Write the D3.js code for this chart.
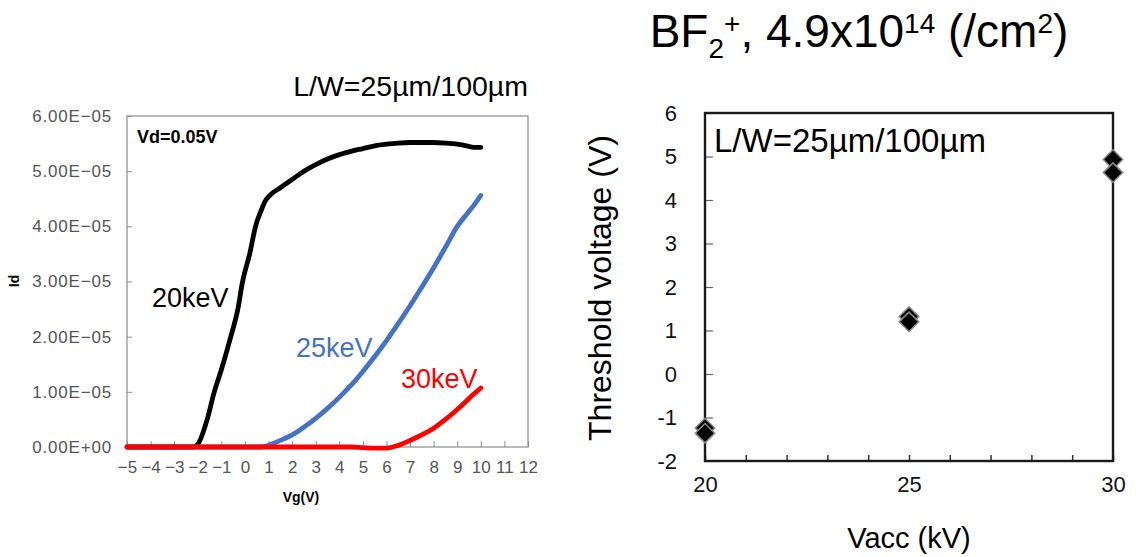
<!DOCTYPE html>
<html>
<head>
<meta charset="utf-8">
<script src="https://cdn.jsdelivr.net/npm/d3@7"></script>
<style>
  body { margin: 0; background: #fff; }
  svg { display: block; font-family: "Liberation Sans", Arial, sans-serif; }
</style>
</head>
<body>
<svg id="chart" width="1136" height="557"></svg>
<script>
// Left panel: Id-Vg transfer curves (Id in units of 1E-05 A)
const vg = [-5, -4, -3, -2.5, -2.2, -2.0, -1.6, -1.3, -1.0, -0.6, -0.3, -0.1, 0.2, 0.45, 0.7, 0.85, 1.1, 1.5, 2, 2.5, 3, 3.5, 4, 4.5, 5, 5.5, 6, 6.5, 7, 7.5, 8, 8.5, 9, 9.4, 9.7, 10];
const id20 = [0, 0, 0, 0, 0, 0.05, 0.5, 1.0, 1.4, 2.0, 2.5, 3.0, 3.5, 4.0, 4.3, 4.45, 4.58, 4.7, 4.85, 5.0, 5.12, 5.22, 5.3, 5.36, 5.41, 5.46, 5.49, 5.51, 5.52, 5.52, 5.52, 5.51, 5.49, 5.46, 5.43, 5.43];
const id25 = [0, 0, 0, 0, 0, 0, 0, 0, 0, 0, 0, 0, 0, 0, 0, 0.01, 0.05, 0.12, 0.22, 0.36, 0.52, 0.7, 0.9, 1.12, 1.37, 1.64, 1.93, 2.24, 2.56, 2.9, 3.25, 3.62, 4.0, 4.22, 4.38, 4.56];
const id30 = [0, 0, 0, 0, 0, 0, 0, 0, 0, 0, 0, 0, 0, 0, 0, 0, 0, 0, 0, 0, 0, 0, 0, 0, -0.01, -0.02, -0.02, 0.03, 0.12, 0.22, 0.34, 0.5, 0.68, 0.84, 0.96, 1.07];
const curveLabels = ["20keV", "25keV", "30keV"];
const curveColors = ["#000000", "#4472c4", "#ff0000"];
const idTicks = [0, 1, 2, 3, 4, 5, 6];
const vgTicks = d3.range(-5, 13);

// Right panel: threshold voltage vs acceleration voltage
const vacc = [20, 25, 30];
const vthA = [-1.24, 1.32, 4.93];
const vthB = [-1.36, 1.2, 4.63];
const vthTicks = [-2, -1, 0, 1, 2, 3, 4, 5, 6];
const vaccLabels = [20, 25, 30];

const svg = d3.select("#chart");

// ---------- left panel ----------
const L = {left: 127, right: 528, top: 116, bottom: 447};
const xL = d3.scaleLinear().domain([-5, 12]).range([L.left, L.right]);
const yL = d3.scaleLinear().domain([0, 6]).range([L.bottom, L.top]);

svg.append("rect")
  .attr("x", L.left).attr("y", L.top)
  .attr("width", L.right - L.left).attr("height", L.bottom - L.top)
  .attr("fill", "none").attr("stroke", "#8c8c8c").attr("stroke-width", 1.2);

// id tick labels as 6.00E-05 style
function sci(v) {
  if (v === 0) return "0.00E+00";
  return v.toFixed(2) + "E\u221205";
}

const yAxisL = svg.append("g")
  .attr("transform", `translate(${L.left},0)`)
  .call(d3.axisLeft(yL).tickValues(idTicks).tickSize(-5).tickPadding(15).tickFormat(sci));
yAxisL.select(".domain").remove();
yAxisL.selectAll("line").attr("stroke", "#8c8c8c");
yAxisL.selectAll("text").attr("fill", "#555").attr("font-size", 17).attr("letter-spacing", 0.8);

const xAxisL = svg.append("g")
  .attr("transform", `translate(0,${L.bottom})`)
  .call(d3.axisBottom(xL).tickValues(vgTicks).tickSize(-6).tickPadding(14).tickFormat(d3.format("d")));
xAxisL.select(".domain").remove();
xAxisL.selectAll("line").attr("stroke", "#8c8c8c");
xAxisL.selectAll("text").attr("fill", "#555").attr("font-size", 17);

const line = d3.line().x((d, i) => xL(vg[i])).y(d => yL(d)).curve(d3.curveMonotoneX);
[id20, id25, id30].forEach((s, k) => {
  svg.append("path")
    .attr("d", line(s))
    .attr("fill", "none")
    .attr("stroke", curveColors[k])
    .attr("stroke-width", 4.8)
    .attr("stroke-linecap", "round")
    .attr("stroke-linejoin", "round");
});

// curve labels
const labelPos = [[152, 307], [296, 357], [401, 388]];
curveLabels.forEach((t, k) => {
  svg.append("text")
    .attr("x", labelPos[k][0]).attr("y", labelPos[k][1])
    .attr("fill", curveColors[k])
    .attr("font-size", 27)
    .text(t);
});

svg.append("text")
  .attr("x", 137).attr("y", 143)
  .attr("font-size", 18).attr("font-weight", "bold")
  .text("Vd=0.05V");

svg.append("text")
  .attr("x", 528).attr("y", 96)
  .attr("text-anchor", "end")
  .attr("font-size", 28.5)
  .text("L/W=25\u00b5m/100\u00b5m");

svg.append("text")
  .attr("x", 301).attr("y", 502)
  .attr("text-anchor", "middle")
  .attr("font-size", 14).attr("font-weight", "bold")
  .text("Vg(V)");

svg.append("text")
  .attr("transform", "translate(19,281) rotate(-90)")
  .attr("text-anchor", "middle")
  .attr("font-size", 14).attr("font-weight", "bold")
  .text("Id");

// ---------- right panel ----------
const R = {left: 705, right: 1113, top: 113, bottom: 461};
const xR = d3.scaleLinear().domain([20, 30]).range([R.left, R.right]);
const yR = d3.scaleLinear().domain([-2, 6]).range([R.bottom, R.top]);

const yAxisR = svg.append("g")
  .attr("transform", `translate(${R.left},0)`)
  .call(d3.axisLeft(yR).tickValues(vthTicks).tickSize(-8).tickPadding(28).tickFormat(d3.format("d")));
yAxisR.select(".domain").remove();
yAxisR.selectAll("line").attr("stroke", "#666").attr("stroke-width", 1.2);
yAxisR.selectAll("text").attr("fill", "#111").attr("font-size", 22)
  .text(d => String(d));

const xAxisR = svg.append("g")
  .attr("transform", `translate(0,${R.bottom})`)
  .call(d3.axisBottom(xR).ticks(10).tickSize(-6).tickPadding(15).tickFormat(d => vaccLabels.includes(d) ? d : ""));
xAxisR.select(".domain").remove();
xAxisR.selectAll("line").attr("stroke", "#333").attr("stroke-width", 1.5);
xAxisR.selectAll("text").attr("fill", "#111").attr("font-size", 22);

svg.append("rect")
  .attr("x", R.left).attr("y", R.top)
  .attr("width", R.right - R.left).attr("height", R.bottom - R.top)
  .attr("fill", "none").attr("stroke", "#1a1a1a").attr("stroke-width", 2.4);

const diamond = d3.symbol().type(d3.symbolDiamond2).size(240);
[vthA, vthB].forEach(s => {
  svg.append("g").selectAll("path")
    .data(s)
    .join("path")
    .attr("transform", (d, i) => `translate(${xR(vacc[i])},${yR(d)})`)
    .attr("d", diamond)
    .attr("fill", "#000")
    .attr("stroke", "#888")
    .attr("stroke-width", 1.5);
});

svg.append("text")
  .attr("x", 714).attr("y", 152)
  .attr("font-size", 33)
  .text("L/W=25\u00b5m/100\u00b5m");

svg.append("text")
  .attr("x", (R.left + R.right) / 2).attr("y", 548)
  .attr("text-anchor", "middle")
  .attr("font-size", 29)
  .text("Vacc (kV)");

svg.append("text")
  .attr("transform", "translate(611,288) rotate(-90)")
  .attr("text-anchor", "middle")
  .attr("font-size", 32)
  .text("Threshold voltage (V)");

// title with sub/superscripts
const title = svg.append("text")
  .attr("x", 859).attr("y", 47)
  .attr("text-anchor", "middle")
  .attr("font-size", 46);
title.append("tspan").text("BF");
title.append("tspan").attr("font-size", 28).attr("dy", 11).text("2");
title.append("tspan").attr("font-size", 28).attr("dy", -25).text("+");
title.append("tspan").attr("dy", 14).text(", 4.9x10");
title.append("tspan").attr("font-size", 28).attr("dy", -14).text("14");
title.append("tspan").attr("dy", 14).text(" (/cm");
title.append("tspan").attr("font-size", 28).attr("dy", -14).text("2");
title.append("tspan").attr("dy", 14).text(")");
</script>
</body>
</html>
